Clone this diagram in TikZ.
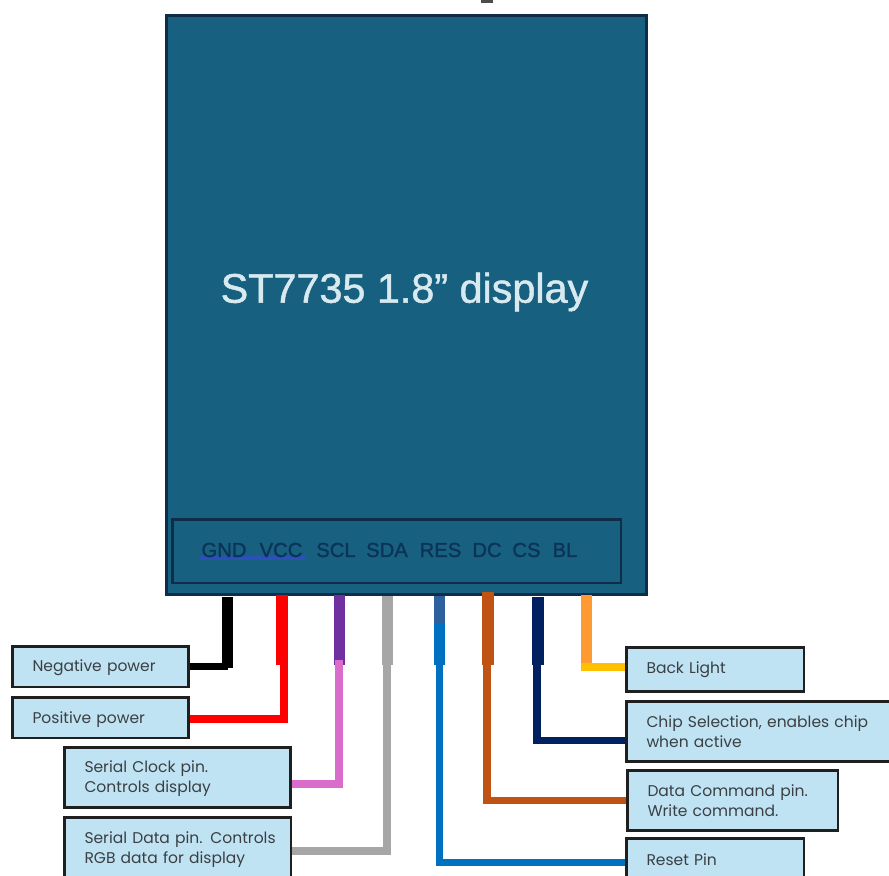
\documentclass[tikz,border=0pt]{standalone}
\usepackage{fontspec}
\setmainfont{Poppins}
\newfontfamily\headfont[FakeBold=1.2]{Liberation Sans}
\newcommand\shiftline[2]{\raisebox{#1}[\height][\depth]{#2}}
\begin{document}
\begin{tikzpicture}[x=0.75pt,y=-0.75pt,outer sep=0pt,
  lbl/.style={draw=black!88,line width=1.7pt,fill=labelblue,text=textgrey,align=left,anchor=north west,
    inner xsep=15pt,inner ysep=0pt,font=\fontsize{11.65pt}{15pt}\selectfont},
  stub/.style={line width=8.4pt},
  wire/.style={line width=5.6pt},
  pinlabel/.style={text=pintext,font=\headfont\fontsize{15.2pt}{18pt}\selectfont,inner sep=0pt}]
\definecolor{labelblue}{HTML}{C0E3F4}
\definecolor{textgrey}{HTML}{3A3F42}
\definecolor{panel}{HTML}{17607F}
\definecolor{panelline}{HTML}{0F2C48}
\definecolor{pintext}{HTML}{0B3358}
\definecolor{titletext}{HTML}{D8EAF0}
\definecolor{wpurple}{HTML}{7030A0}
\definecolor{wpink}{HTML}{DA6CCB}
\definecolor{wgrey}{HTML}{A6A6A6}
\definecolor{wblue}{HTML}{0070C0}
\definecolor{wsteel}{HTML}{2E5F9E}
\definecolor{wbrown}{HTML}{C05214}
\definecolor{wnavy}{HTML}{002060}
\definecolor{worange}{HTML}{FF9A33}
\definecolor{wyellow}{HTML}{FFC000}
\definecolor{squiggle}{HTML}{2B50B8}
\useasboundingbox (0,0) rectangle (889,875);
\clip (0,0) rectangle (889,875);
% display body
\node[draw=panelline,fill=panel,line width=2.4pt,minimum width=360pt,minimum height=434.5pt,inner sep=0pt,anchor=north west] (display) at (166.5,15.5) {};
\node[text=titletext,font=\headfont\fontsize{31pt}{36pt}\selectfont,inner sep=0pt] (title) at (404.5,292) {ST7735 1.8” display};
\node[draw=panelline,line width=1.8pt,minimum width=336.5pt,minimum height=47.5pt,inner sep=0pt,anchor=north west] (header) at (172.5,519.5) {};
\fill[squiggle] (200,556) rectangle (305,560);
\node[pinlabel] (pgnd) at (224,550) {GND};
\node[pinlabel] (pvcc) at (281,550) {VCC};
\node[pinlabel] (pscl) at (336,550) {SCL};
\node[pinlabel] (psda) at (387,550) {SDA};
\node[pinlabel] (pres) at (440.5,550) {RES};
\node[pinlabel] (pdc) at (487,550) {DC};
\node[pinlabel] (pcs) at (526.5,550) {CS};
\node[pinlabel] (pbl) at (565,550) {BL};
\fill[black!70] (481,0) rectangle (493,2.5);
% label boxes
\node[lbl,minimum width=132pt,minimum height=30.5pt,text width=102pt] (neg) at (12.5,646.5) {\shiftline{-1pt}{Negative power}};
\node[lbl,minimum width=132pt,minimum height=30.5pt,text width=102pt] (pos) at (12.5,697.5) {\shiftline{-1pt}{Positive power}};
\node[lbl,minimum width=169.5pt,minimum height=45pt,text width=139.5pt] (sclbox) at (64.5,747.5) {\shiftline{-1pt}{Serial Clock pin.}\\\shiftline{-1pt}{Controls display}};
\node[lbl,minimum width=170pt,minimum height=48pt,text width=140pt] (sdabox) at (64.5,817.5) {\mbox{Serial Data pin. Controls}\\\mbox{RGB data for display}};
\node[lbl,minimum width=133pt,minimum height=33pt,text width=103pt] (blbox) at (626.5,647.5) {Back Light};
\node[lbl,minimum width=210pt,minimum height=45pt,text width=180pt] (csbox) at (626.5,701.5) {\mbox{Chip Selection, enables chip}\\when active};
\node[lbl,minimum width=158pt,minimum height=45pt,text width=128pt] (dcbox) at (627.5,770.5) {Data Command pin.\\Write command.};
\node[lbl,minimum width=133pt,minimum height=48pt,text width=103pt] (resbox) at (626.5,838.5) {\shiftline{8pt}{Reset Pin}};
% pin coordinates
\coordinate (gndpin) at (227.5,597);
\coordinate (vccpin) at (282,595);
\coordinate (sclpin) at (339.5,595);
\coordinate (sdapin) at (387.5,596);
\coordinate (respin) at (439.5,596);
\coordinate (dcpin) at (488,592);
\coordinate (cspin) at (538,597);
\coordinate (blpin) at (586.5,595);
% stubs leaving the display
\draw[stub,black] (gndpin) -- ++(0,71);
\draw[stub,red] (vccpin) -- ++(0,70);
\draw[stub,wpurple] (sclpin) -- ++(0,70);
\draw[stub,wgrey] (sdapin) -- ++(0,69);
\draw[stub,wsteel] (respin) -- ++(0,27);
\draw[stub,wblue] (respin)++(0,27) -- ++(0,42);
\draw[stub,wbrown] (dcpin) -- ++(0,73);
\draw[stub,wnavy] (cspin) -- ++(0,68);
\draw[stub,worange] (blpin) -- ++(0,68);
% wires to labels
\draw[wire,black] (neg.east |- 0,666.5) -- (228,666.5);
\draw[wire,red] (pos.east |- 0,719) -| (284,660);
\draw[wire,wpink] (sclbox.east |- 0,784) -| (339,660);
\draw[wire,wgrey] (sdabox.east |- 0,851) -| (387,650);
\draw[wire,wblue] (resbox.west |- 0,862.5) -| (439.5,660);
\draw[wire,wbrown] (dcbox.west |- 0,800.5) -| (487,660);
\draw[wire,wnavy] (csbox.west |- 0,740.5) -| (537,660);
\draw[wire,wyellow] (blbox.west |- 0,667) -- (581,667);
% keep label outlines above wire ends
\foreach \b in {neg,pos,sclbox,sdabox,blbox,csbox,dcbox,resbox}{\draw[draw=black!88,line width=1.7pt] (\b.south west) rectangle (\b.north east);}
\end{tikzpicture}
\end{document}
